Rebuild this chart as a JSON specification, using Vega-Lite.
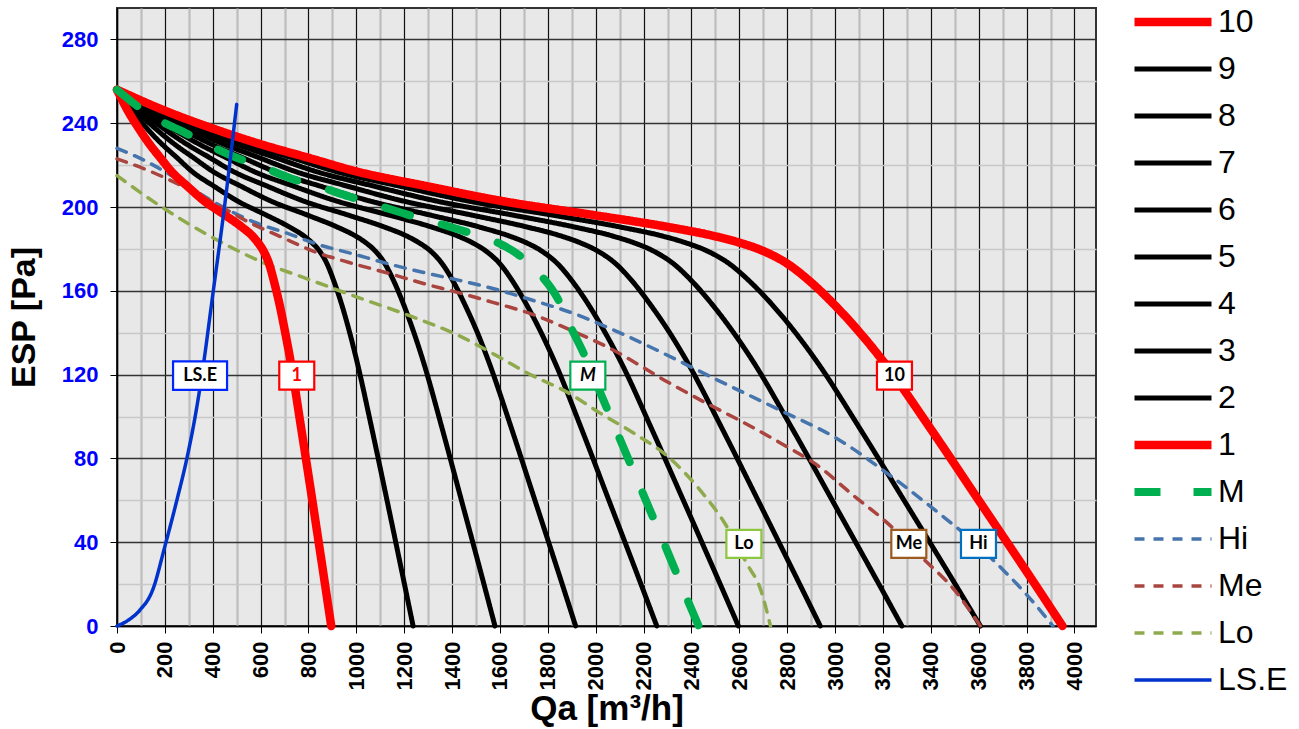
{
  "$schema": "https://vega.github.io/schema/vega-lite/v6.json",
  "width": 979,
  "height": 618,
  "autosize": "none",
  "padding": {"left": 117, "top": 8, "right": 203, "bottom": 103},
  "background": "white",
  "config": {
    "view": {"fill": "#E8E8E8", "stroke": "#333333", "strokeWidth": 2},
    "line": {"strokeCap": "round", "strokeJoin": "round", "interpolate": "monotone"},
    "legend": {
      "orient": "none",
      "legendX": 1013,
      "legendY": -9.5,
      "padding": 0,
      "offset": 0,
      "title": null,
      "symbolType": "stroke",
      "symbolSize": 5929,
      "clipHeight": 47,
      "labelFont": "Liberation Sans",
      "labelFontSize": 32,
      "labelColor": "#000000",
      "labelOffset": 2,
      "rowPadding": 0
    }
  },
  "datasets": {
    "curves": [
      {"s":"10","q":0,"p":256},{"s":"10","q":200,"p":246},{"s":"10","q":400,"p":237.5},{"s":"10","q":600,"p":230},{"s":"10","q":800,"p":223.5},{"s":"10","q":1000,"p":217},{"s":"10","q":1300,"p":209.8},{"s":"10","q":1600,"p":203},{"s":"10","q":2000,"p":196},{"s":"10","q":2300,"p":190.5},{"s":"10","q":2500,"p":186},{"s":"10","q":2600,"p":183},{"s":"10","q":2700,"p":179},{"s":"10","q":2800,"p":173},{"s":"10","q":2900,"p":164},{"s":"10","q":3000,"p":153},{"s":"10","q":3100,"p":140.5},{"s":"10","q":3200,"p":126.5},{"s":"10","q":3400,"p":94},{"s":"10","q":3600,"p":60},{"s":"10","q":3800,"p":26},{"s":"10","q":3950,"p":0},
      {"s":"9","q":0,"p":256},{"s":"9","q":183,"p":246},{"s":"9","q":365,"p":237.5},{"s":"9","q":548,"p":230},{"s":"9","q":731,"p":223.5},{"s":"9","q":913,"p":217},{"s":"9","q":1187,"p":209.8},{"s":"9","q":1461,"p":203},{"s":"9","q":1826,"p":196},{"s":"9","q":2100,"p":190.5},{"s":"9","q":2283,"p":186},{"s":"9","q":2374,"p":183},{"s":"9","q":2466,"p":179},{"s":"9","q":2557,"p":173},{"s":"9","q":2648,"p":164},{"s":"9","q":2740,"p":153},{"s":"9","q":2831,"p":140.5},{"s":"9","q":2922,"p":126.5},{"s":"9","q":3105,"p":94},{"s":"9","q":3288,"p":60},{"s":"9","q":3470,"p":26},{"s":"9","q":3607,"p":0},
      {"s":"8","q":0,"p":256},{"s":"8","q":166,"p":246},{"s":"8","q":332,"p":237.5},{"s":"8","q":498,"p":230},{"s":"8","q":664,"p":223.5},{"s":"8","q":830,"p":217},{"s":"8","q":1079,"p":209.8},{"s":"8","q":1328,"p":203},{"s":"8","q":1660,"p":196},{"s":"8","q":1909,"p":190.5},{"s":"8","q":2075,"p":186},{"s":"8","q":2158,"p":183},{"s":"8","q":2241,"p":179},{"s":"8","q":2324,"p":173},{"s":"8","q":2407,"p":164},{"s":"8","q":2490,"p":153},{"s":"8","q":2573,"p":140.5},{"s":"8","q":2656,"p":126.5},{"s":"8","q":2822,"p":94},{"s":"8","q":2988,"p":60},{"s":"8","q":3154,"p":26},{"s":"8","q":3279,"p":0},
      {"s":"7","q":0,"p":256},{"s":"7","q":149,"p":246},{"s":"7","q":298,"p":237.5},{"s":"7","q":446,"p":230},{"s":"7","q":595,"p":223.5},{"s":"7","q":744,"p":217},{"s":"7","q":967,"p":209.8},{"s":"7","q":1190,"p":203},{"s":"7","q":1488,"p":196},{"s":"7","q":1711,"p":190.5},{"s":"7","q":1860,"p":186},{"s":"7","q":1934,"p":183},{"s":"7","q":2008,"p":179},{"s":"7","q":2083,"p":173},{"s":"7","q":2157,"p":164},{"s":"7","q":2231,"p":153},{"s":"7","q":2306,"p":140.5},{"s":"7","q":2380,"p":126.5},{"s":"7","q":2529,"p":94},{"s":"7","q":2678,"p":60},{"s":"7","q":2826,"p":26},{"s":"7","q":2938,"p":0},
      {"s":"6","q":0,"p":256},{"s":"6","q":131,"p":246},{"s":"6","q":263,"p":237.5},{"s":"6","q":394,"p":230},{"s":"6","q":526,"p":223.5},{"s":"6","q":657,"p":217},{"s":"6","q":854,"p":209.8},{"s":"6","q":1052,"p":203},{"s":"6","q":1314,"p":196},{"s":"6","q":1512,"p":190.5},{"s":"6","q":1643,"p":186},{"s":"6","q":1709,"p":183},{"s":"6","q":1774,"p":179},{"s":"6","q":1840,"p":173},{"s":"6","q":1906,"p":164},{"s":"6","q":1972,"p":153},{"s":"6","q":2037,"p":140.5},{"s":"6","q":2103,"p":126.5},{"s":"6","q":2234,"p":94},{"s":"6","q":2366,"p":60},{"s":"6","q":2497,"p":26},{"s":"6","q":2596,"p":0},
      {"s":"5","q":0,"p":256},{"s":"5","q":114,"p":246},{"s":"5","q":228,"p":237.5},{"s":"5","q":343,"p":230},{"s":"5","q":457,"p":223.5},{"s":"5","q":571,"p":217},{"s":"5","q":742,"p":209.8},{"s":"5","q":913,"p":203},{"s":"5","q":1142,"p":196},{"s":"5","q":1313,"p":190.5},{"s":"5","q":1427,"p":186},{"s":"5","q":1484,"p":183},{"s":"5","q":1541,"p":179},{"s":"5","q":1599,"p":173},{"s":"5","q":1656,"p":164},{"s":"5","q":1713,"p":153},{"s":"5","q":1770,"p":140.5},{"s":"5","q":1827,"p":126.5},{"s":"5","q":1941,"p":94},{"s":"5","q":2055,"p":60},{"s":"5","q":2169,"p":26},{"s":"5","q":2255,"p":0},
      {"s":"4","q":0,"p":256},{"s":"4","q":97,"p":246},{"s":"4","q":194,"p":237.5},{"s":"4","q":291,"p":230},{"s":"4","q":388,"p":223.5},{"s":"4","q":485,"p":217},{"s":"4","q":631,"p":209.8},{"s":"4","q":776,"p":203},{"s":"4","q":970,"p":196},{"s":"4","q":1116,"p":190.5},{"s":"4","q":1213,"p":186},{"s":"4","q":1261,"p":183},{"s":"4","q":1310,"p":179},{"s":"4","q":1358,"p":173},{"s":"4","q":1407,"p":164},{"s":"4","q":1455,"p":153},{"s":"4","q":1504,"p":140.5},{"s":"4","q":1552,"p":126.5},{"s":"4","q":1649,"p":94},{"s":"4","q":1746,"p":60},{"s":"4","q":1843,"p":26},{"s":"4","q":1916,"p":0},
      {"s":"3","q":0,"p":256},{"s":"3","q":80,"p":246},{"s":"3","q":160,"p":237.5},{"s":"3","q":240,"p":230},{"s":"3","q":320,"p":223.5},{"s":"3","q":400,"p":217},{"s":"3","q":520,"p":209.8},{"s":"3","q":640,"p":203},{"s":"3","q":799,"p":196},{"s":"3","q":919,"p":190.5},{"s":"3","q":999,"p":186},{"s":"3","q":1039,"p":183},{"s":"3","q":1079,"p":179},{"s":"3","q":1119,"p":173},{"s":"3","q":1159,"p":164},{"s":"3","q":1199,"p":153},{"s":"3","q":1239,"p":140.5},{"s":"3","q":1279,"p":126.5},{"s":"3","q":1359,"p":94},{"s":"3","q":1439,"p":60},{"s":"3","q":1519,"p":26},{"s":"3","q":1579,"p":0},
      {"s":"2","q":0,"p":256},{"s":"2","q":63,"p":246},{"s":"2","q":125,"p":237.5},{"s":"2","q":188,"p":230},{"s":"2","q":251,"p":223.5},{"s":"2","q":313,"p":217},{"s":"2","q":407,"p":209.8},{"s":"2","q":501,"p":203},{"s":"2","q":626,"p":196},{"s":"2","q":720,"p":190.5},{"s":"2","q":783,"p":186},{"s":"2","q":814,"p":183},{"s":"2","q":846,"p":179},{"s":"2","q":877,"p":173},{"s":"2","q":908,"p":164},{"s":"2","q":940,"p":153},{"s":"2","q":971,"p":140.5},{"s":"2","q":1002,"p":126.5},{"s":"2","q":1065,"p":94},{"s":"2","q":1128,"p":60},{"s":"2","q":1190,"p":26},{"s":"2","q":1237,"p":0},
      {"s":"1","q":0,"p":256},{"s":"1","q":45,"p":246},{"s":"1","q":91,"p":237.5},{"s":"1","q":136,"p":230},{"s":"1","q":181,"p":223.5},{"s":"1","q":227,"p":217},{"s":"1","q":295,"p":209.8},{"s":"1","q":363,"p":203},{"s":"1","q":453,"p":196},{"s":"1","q":521,"p":190.5},{"s":"1","q":567,"p":186},{"s":"1","q":589,"p":183},{"s":"1","q":612,"p":179},{"s":"1","q":635,"p":173},{"s":"1","q":657,"p":164},{"s":"1","q":680,"p":153},{"s":"1","q":702,"p":140.5},{"s":"1","q":725,"p":126.5},{"s":"1","q":770,"p":94},{"s":"1","q":816,"p":60},{"s":"1","q":861,"p":26},{"s":"1","q":895,"p":0},
      {"s":"M","q":0,"p":256},{"s":"M","q":150,"p":243},{"s":"M","q":275,"p":236},{"s":"M","q":375,"p":230},{"s":"M","q":500,"p":223.5},{"s":"M","q":610,"p":219},{"s":"M","q":730,"p":213.5},{"s":"M","q":850,"p":209.5},{"s":"M","q":970,"p":205},{"s":"M","q":1085,"p":201},{"s":"M","q":1210,"p":196.5},{"s":"M","q":1320,"p":193},{"s":"M","q":1450,"p":188.5},{"s":"M","q":1570,"p":184},{"s":"M","q":1680,"p":177},{"s":"M","q":1770,"p":167.5},{"s":"M","q":1840,"p":156.5},{"s":"M","q":1890,"p":144},{"s":"M","q":1950,"p":130},{"s":"M","q":2000,"p":116.5},{"s":"M","q":2100,"p":89.5},{"s":"M","q":2200,"p":62.5},{"s":"M","q":2300,"p":35.5},{"s":"M","q":2400,"p":8},{"s":"M","q":2430,"p":0},
      {"s":"Hi","q":0,"p":228},{"s":"Hi","q":110,"p":222.5},{"s":"Hi","q":220,"p":215.5},{"s":"Hi","q":330,"p":207.5},{"s":"Hi","q":450,"p":199.5},{"s":"Hi","q":580,"p":192.5},{"s":"Hi","q":710,"p":187.5},{"s":"Hi","q":830,"p":182.5},{"s":"Hi","q":990,"p":177.5},{"s":"Hi","q":1130,"p":173},{"s":"Hi","q":1290,"p":168.5},{"s":"Hi","q":1430,"p":165},{"s":"Hi","q":1590,"p":160.5},{"s":"Hi","q":1750,"p":155},{"s":"Hi","q":1900,"p":149.5},{"s":"Hi","q":2060,"p":142},{"s":"Hi","q":2250,"p":132},{"s":"Hi","q":2480,"p":119},{"s":"Hi","q":2770,"p":103},{"s":"Hi","q":3000,"p":90},{"s":"Hi","q":3240,"p":71},{"s":"Hi","q":3410,"p":56},{"s":"Hi","q":3580,"p":40},{"s":"Hi","q":3700,"p":27},{"s":"Hi","q":3800,"p":15},{"s":"Hi","q":3910,"p":0},
      {"s":"Me","q":0,"p":223},{"s":"Me","q":140,"p":217},{"s":"Me","q":290,"p":209},{"s":"Me","q":430,"p":200.5},{"s":"Me","q":555,"p":192.5},{"s":"Me","q":680,"p":186},{"s":"Me","q":830,"p":178.5},{"s":"Me","q":970,"p":173.5},{"s":"Me","q":1130,"p":168.5},{"s":"Me","q":1280,"p":163.5},{"s":"Me","q":1430,"p":159},{"s":"Me","q":1570,"p":154.5},{"s":"Me","q":1730,"p":149},{"s":"Me","q":1890,"p":141.5},{"s":"Me","q":2060,"p":132.5},{"s":"Me","q":2300,"p":116.5},{"s":"Me","q":2460,"p":106.5},{"s":"Me","q":2620,"p":97},{"s":"Me","q":2800,"p":85.5},{"s":"Me","q":2910,"p":78},{"s":"Me","q":3080,"p":62},{"s":"Me","q":3220,"p":49},{"s":"Me","q":3360,"p":33},{"s":"Me","q":3500,"p":17},{"s":"Me","q":3607,"p":0},
      {"s":"Lo","q":0,"p":215},{"s":"Lo","q":180,"p":200.5},{"s":"Lo","q":390,"p":186},{"s":"Lo","q":600,"p":174},{"s":"Lo","q":800,"p":165.5},{"s":"Lo","q":1015,"p":156.5},{"s":"Lo","q":1225,"p":148},{"s":"Lo","q":1430,"p":138.5},{"s":"Lo","q":1610,"p":127.5},{"s":"Lo","q":1710,"p":121},{"s":"Lo","q":1890,"p":111},{"s":"Lo","q":2020,"p":101.5},{"s":"Lo","q":2160,"p":92},{"s":"Lo","q":2300,"p":81},{"s":"Lo","q":2435,"p":65},{"s":"Lo","q":2550,"p":47},{"s":"Lo","q":2630,"p":30},{"s":"Lo","q":2690,"p":17},{"s":"Lo","q":2730,"p":0},
      {"s":"LS.E","q":0,"p":0},{"s":"LS.E","q":50,"p":3},{"s":"LS.E","q":95,"p":7.5},{"s":"LS.E","q":150,"p":17.5},{"s":"LS.E","q":200,"p":38},{"s":"LS.E","q":250,"p":60},{"s":"LS.E","q":290,"p":79},{"s":"LS.E","q":325,"p":99},{"s":"LS.E","q":355,"p":120},{"s":"LS.E","q":400,"p":158},{"s":"LS.E","q":450,"p":201},{"s":"LS.E","q":500,"p":249}
    ],
    "tags": [
      {"t":"LS.E","q":347,"p":119.5},
      {"t":"1","q":751,"p":119.5},
      {"t":"M","q":1967,"p":119.5},
      {"t":"10","q":3248,"p":119.5},
      {"t":"Lo","q":2619,"p":39.2},
      {"t":"Me","q":3308,"p":39.2},
      {"t":"Hi","q":3599,"p":39.2}
    ]
  },
  "encoding": {
    "x": {
      "field": "q",
      "type": "quantitative",
      "scale": {"domain": [0, 4090], "nice": false, "zero": false},
      "axis": {
        "title": "Qa [m³/h]",
        "titleFont": "Liberation Sans",
        "titleFontSize": 35,
        "titleFontWeight": "bold",
        "titleColor": "#000000",
        "titlePadding": 2,
        "values": [0,100,200,300,400,500,600,700,800,900,1000,1100,1200,1300,1400,1500,1600,1700,1800,1900,2000,2100,2200,2300,2400,2500,2600,2700,2800,2900,3000,3100,3200,3300,3400,3500,3600,3700,3800,3900,4000],
        "format": "d",
        "labelExpr": "datum.value % 200 === 0 ? datum.label : ''",
        "labelAngle": -90,
        "labelFont": "Liberation Sans",
        "labelFontSize": 22,
        "labelFontWeight": "bold",
        "labelColor": "#000000",
        "labelPadding": 8,
        "labelOverlap": false,
        "grid": true,
        "gridColor": {"expr": "datum.value % 200 === 0 ? '#111111' : '#BDBDBD'"},
        "gridWidth": {"expr": "datum.value % 200 === 0 ? 1.2 : 2.2"},
        "gridOpacity": 1,
        "ticks": true,
        "tickSize": 7,
        "tickColor": "#000000",
        "tickOpacity": {"expr": "datum.value % 200 === 0 ? 1 : 0"},
        "domainColor": "#000000",
        "domainWidth": 1.5
      }
    },
    "y": {
      "field": "p",
      "type": "quantitative",
      "scale": {"domain": [0, 295], "nice": false, "zero": true},
      "axis": {
        "title": "ESP [Pa]",
        "titleFont": "Liberation Sans",
        "titleFontSize": 34,
        "titleFontWeight": "bold",
        "titleColor": "#000000",
        "titlePadding": 20,
        "values": [0,20,40,60,80,100,120,140,160,180,200,220,240,260,280],
        "format": "d",
        "labelExpr": "datum.value % 40 === 0 ? datum.label : ''",
        "labelFont": "Liberation Sans",
        "labelFontSize": 22,
        "labelFontWeight": "bold",
        "labelColor": "#0000FF",
        "labelPadding": 12,
        "grid": true,
        "gridColor": {"expr": "datum.value % 40 === 0 ? '#333333' : '#C8C8C8'"},
        "gridWidth": 1.5,
        "gridOpacity": 1,
        "ticks": true,
        "tickSize": 7,
        "tickColor": "#000000",
        "tickOpacity": {"expr": "datum.value % 40 === 0 ? 1 : 0"},
        "domainColor": "#000000",
        "domainWidth": 1.5
      }
    }
  },
  "layer": [
    {
      "data": {"name": "curves"},
      "encoding": {
        "color": {
          "field": "s",
          "type": "nominal",
          "scale": {
            "domain": ["10","9","8","7","6","5","4","3","2","1","M","Hi","Me","Lo","LS.E"],
            "range": ["#FF0000","#000000","#000000","#000000","#000000","#000000","#000000","#000000","#000000","#FF0000","#00B050","#4674AC","#A9443F","#8FAA4C","#0033CC"]
          },
          "legend": {
            "encode": {"symbols": {"update": {"strokeCap": {"value": "round"}}}}
          }
        },
        "strokeDash": {
          "field": "s",
          "type": "nominal",
          "scale": {
            "domain": ["10","9","8","7","6","5","4","3","2","1","M","Hi","Me","Lo","LS.E"],
            "range": [[1,0],[1,0],[1,0],[1,0],[1,0],[1,0],[1,0],[1,0],[1,0],[1,0],[26,33],[10,9],[10,9],[10,9],[1,0]]
          }
        },
        "strokeWidth": {
          "field": "s",
          "type": "nominal",
          "scale": {
            "type": "ordinal",
            "domain": ["10","9","8","7","6","5","4","3","2","1","M","Hi","Me","Lo","LS.E"],
            "range": [8.5,5,5,5,5,5,5,5,5,8.5,8,3.5,3.5,3.5,3.5]
          }
        }
      },
      "layer": [
        {"transform": [{"filter": "indexof(['9','8','7','6','5','4','3','2'], datum.s) >= 0"}], "mark": {"type": "line"}},
        {"transform": [{"filter": "indexof(['Hi','Me','Lo'], datum.s) >= 0"}], "mark": {"type": "line"}},
        {"transform": [{"filter": "datum.s === '10' || datum.s === '1'"}], "mark": {"type": "line"}},
        {"transform": [{"filter": "datum.s === 'M'"}], "mark": {"type": "line"}},
        {"transform": [{"filter": "datum.s === 'LS.E'"}], "mark": {"type": "line"}}
      ]
    },
    {
      "data": {"name": "tags"},
      "encoding": {
        "stroke": {
          "field": "t",
          "type": "nominal",
          "scale": {
            "domain": ["LS.E","1","M","10","Lo","Me","Hi"],
            "range": ["#0026FF","#FF0000","#00B050","#FF0000","#8DC63F","#9C5A1E","#0070C0"]
          },
          "legend": null
        }
      },
      "layer": [
        {
          "transform": [{"filter": "datum.t !== 'LS.E'"}],
          "mark": {"type": "point", "shape": "M-1,-0.8H1V0.8H-1Z", "size": 1225, "filled": true, "fill": "#FFFFFF", "strokeWidth": 2.2, "opacity": 1, "fillOpacity": 1, "strokeOpacity": 1}
        },
        {
          "transform": [{"filter": "datum.t === 'LS.E'"}],
          "mark": {"type": "point", "shape": "M-1,-0.53H1V0.53H-1Z", "size": 2916, "filled": true, "fill": "#FFFFFF", "strokeWidth": 2.2, "opacity": 1, "fillOpacity": 1, "strokeOpacity": 1}
        }
      ]
    },
    {
      "data": {"name": "tags"},
      "mark": {
        "type": "text",
        "font": "Lato",
        "fontSize": 18,
        "fontWeight": "bold",
        "fontStyle": {"expr": "datum.t === 'M' ? 'italic' : 'normal'"},
        "align": "center",
        "baseline": "middle"
      },
      "encoding": {
        "text": {"field": "t", "type": "nominal"},
        "fill": {
          "field": "t",
          "type": "nominal",
          "scale": {
            "domain": ["LS.E","1","M","10","Lo","Me","Hi"],
            "range": ["#000000","#FF0000","#000000","#000000","#000000","#000000","#000000"]
          },
          "legend": null
        }
      }
    }
  ]
}
